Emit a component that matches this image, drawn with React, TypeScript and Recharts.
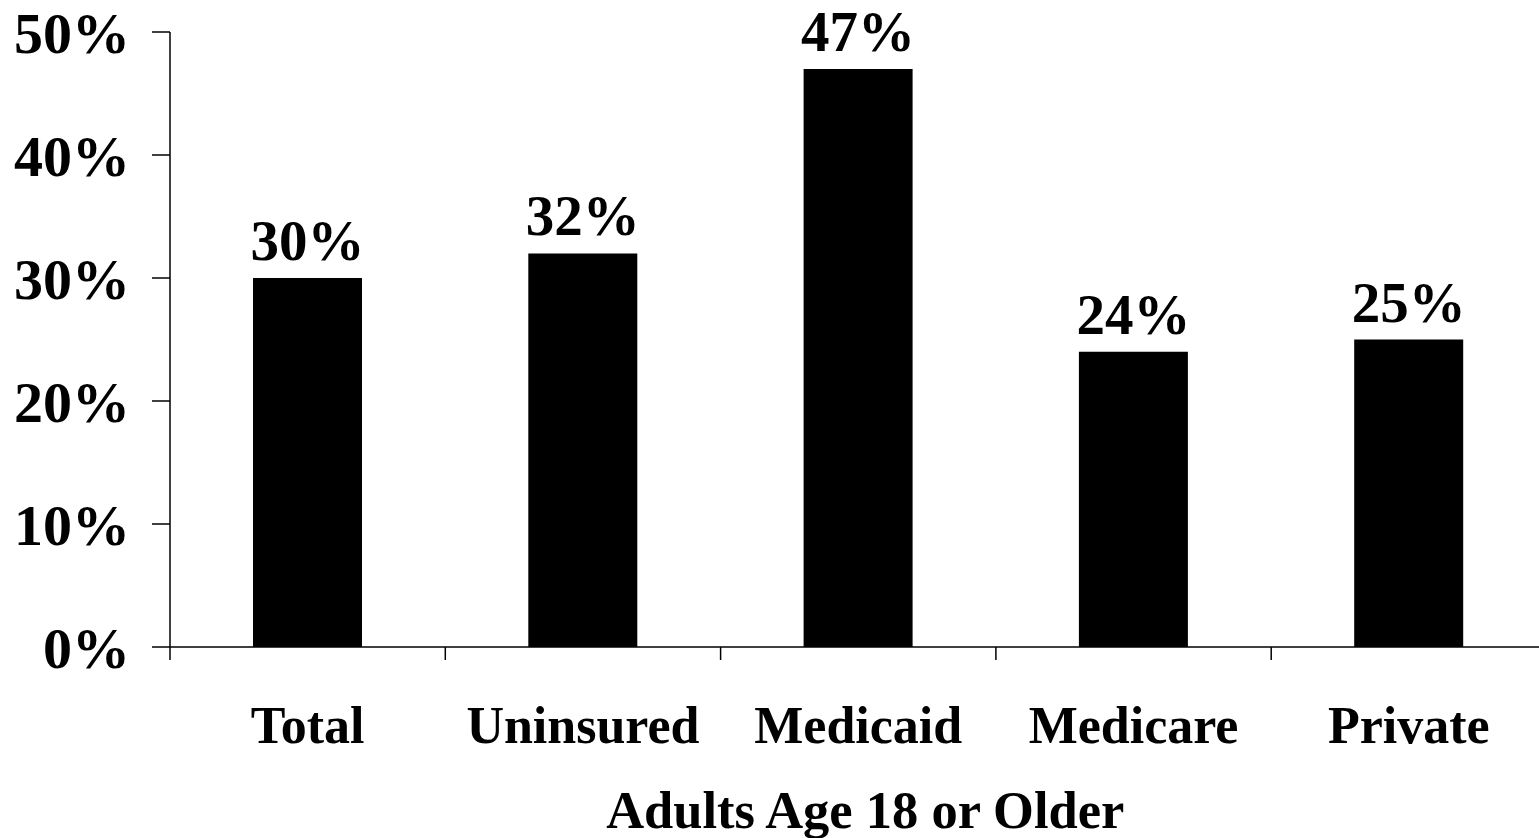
import React from 'react';
import { BarChart, Bar, XAxis, YAxis, LabelList } from 'recharts';

const categories = ['Total', 'Uninsured', 'Medicaid', 'Medicare', 'Private'];
const shares = [30, 32, 47, 24, 25];
const yTicks = [0, 10, 20, 30, 40, 50];
const axisTitle = 'Adults Age 18 or Older';

const data = categories.map((name, i) => ({ name, value: shares[i] }));

const FONT = '"Liberation Serif", "Times New Roman", serif';
const X_TICK_SIZE = 13;
const X_TICK_MARGIN = 46;

// category tick: label in the middle, tick line on the left edge of the band
function CategoryTick(props: any) {
  const { x, y, payload } = props;
  const edge = x - (payload.offset || 0);
  const axisY = y - X_TICK_SIZE - X_TICK_MARGIN;
  return (
    <g>
      <line x1={edge} x2={edge} y1={axisY} y2={axisY + X_TICK_SIZE} stroke="#000" strokeWidth={1.5} />
      <text
        x={x}
        y={y}
        dy="0.71em"
        textAnchor="middle"
        fill="#000"
        fontSize={52}
        fontWeight={700}
        fontFamily={FONT}
      >
        {payload.value}
      </text>
    </g>
  );
}

export default function App() {
  return (
    <div style={{ position: 'fixed', left: 0, top: 0, width: 1539, height: 838, overflow: 'hidden', background: '#fff' }}>
      <BarChart
        width={1560}
        height={838}
        data={data}
        margin={{ top: 32, right: 13.5, left: 0, bottom: 0 }}
      >
        <XAxis
          dataKey="name"
          height={191}
          axisLine={{ stroke: '#000', strokeWidth: 1.5 }}
          tickLine={false}
          tickSize={X_TICK_SIZE}
          tickMargin={X_TICK_MARGIN}
          tick={<CategoryTick />}
          interval={0}
          label={{
            value: axisTitle,
            position: 'insideBottom',
            offset: 10,
            dx: 7,
            fill: '#000',
            fontSize: 52.5,
            fontWeight: 700,
            fontFamily: FONT,
          }}
        />
        <YAxis
          type="number"
          domain={[0, 50]}
          ticks={yTicks}
          width={170}
          interval={0}
          tickFormatter={(v: number) => `${v}%`}
          axisLine={{ stroke: '#000', strokeWidth: 1.5 }}
          tickLine={{ stroke: '#000', strokeWidth: 1.5 }}
          tickSize={18}
          tickMargin={22}
          tick={{ fill: '#000', fontSize: 58, fontWeight: 700, fontFamily: FONT }}
        />
        <Bar dataKey="value" fill="#000" barSize={109} isAnimationActive={false}>
          <LabelList
            dataKey="value"
            position="top"
            offset={18}
            formatter={(v: any) => `${v}%`}
            fill="#000"
            fontSize={57}
            fontWeight={700}
            fontFamily={FONT}
          />
        </Bar>
      </BarChart>
    </div>
  );
}
